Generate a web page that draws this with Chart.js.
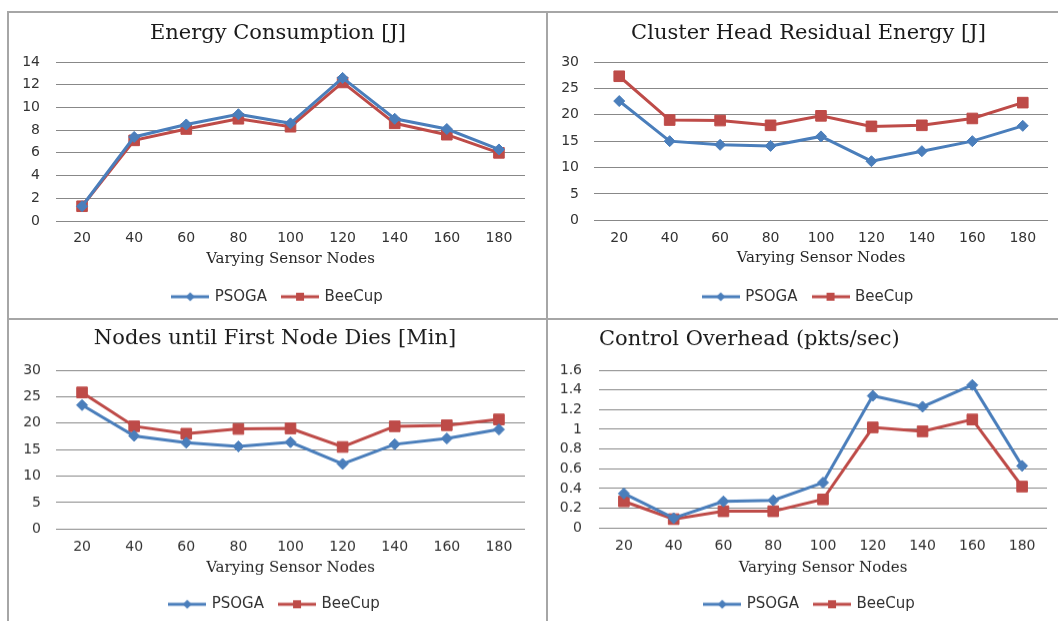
<!DOCTYPE html>
<html>
<head>
<meta charset="utf-8">
<script src="https://cdn.jsdelivr.net/npm/chart.js@4.4.1/dist/chart.umd.min.js"></script>
<style>
  html, body { margin: 0; padding: 0; background: #fff; }
  body { width: 1058px; height: 621px; position: relative; overflow: hidden; }
  .panel { position: absolute; }
  .rule { position: absolute; background: #a6a6a6; }
</style>
</head>
<body>
<div class="rule" style="left:7px;top:11px;width:1051px;height:2px"></div>
<div class="rule" style="left:7px;top:318px;width:1051px;height:2px"></div>
<div class="rule" style="left:7px;top:11px;width:2px;height:610px"></div>
<div class="rule" style="left:546px;top:11px;width:2px;height:610px"></div>

<div class="panel" id="p1"><canvas id="c1"></canvas></div>
<div class="panel" id="p2"><canvas id="c2"></canvas></div>
<div class="panel" id="p3"><canvas id="c3"></canvas></div>
<div class="panel" id="p4"><canvas id="c4"></canvas></div>

<script>
const sensorNodes = ["20", "40", "60", "80", "100", "120", "140", "160", "180"];
const seriesNames = ["PSOGA", "BeeCup"];

const energyPsoga = [1.3, 7.4, 8.5, 9.4, 8.6, 12.6, 9.0, 8.1, 6.3];
const energyBeecup = [1.3, 7.1, 8.1, 9.0, 8.3, 12.2, 8.6, 7.6, 6.0];
const energyTicks = [0, 2, 4, 6, 8, 10, 12, 14];

const residualPsoga = [22.6, 15.0, 14.3, 14.1, 15.9, 11.2, 13.1, 15.0, 17.9];
const residualBeecup = [27.3, 19.0, 18.9, 18.0, 19.8, 17.8, 18.0, 19.3, 22.3];
const residualTicks = [0, 5, 10, 15, 20, 25, 30];

const firstDiesPsoga = [23.4, 17.6, 16.3, 15.6, 16.4, 12.3, 16.0, 17.1, 18.8];
const firstDiesBeecup = [25.8, 19.4, 18.0, 18.9, 19.0, 15.5, 19.4, 19.6, 20.7];
const firstDiesTicks = [0, 5, 10, 15, 20, 25, 30];

const overheadPsoga = [0.35, 0.10, 0.27, 0.28, 0.46, 1.34, 1.23, 1.45, 0.63];
const overheadBeecup = [0.27, 0.09, 0.17, 0.17, 0.29, 1.02, 0.98, 1.10, 0.42];
const overheadTicks = [0, 0.2, 0.4, 0.6, 0.8, 1, 1.2, 1.4, 1.6];

const BLUE = "#4a7ebb";
const RED = "#be4b48";

// small line+marker icons for the legend
function legendIcon(color, shape) {
  const c = document.createElement("canvas");
  c.width = 38; c.height = 12;
  const g = c.getContext("2d");
  g.strokeStyle = color; g.lineWidth = 3;
  g.beginPath(); g.moveTo(0, 6); g.lineTo(38, 6); g.stroke();
  g.fillStyle = color;
  g.beginPath();
  if (shape === "diamond") {
    g.moveTo(19, 1.5); g.lineTo(23.5, 6); g.lineTo(19, 10.5); g.lineTo(14.5, 6);
  } else {
    g.rect(15, 2, 8, 8);
  }
  g.fill();
  return c;
}
const icons = [legendIcon(BLUE, "diamond"), legendIcon(RED, "square")];

const sans = "'DejaVu Sans', sans-serif";
const serif = "'DejaVu Serif', serif";

function makePanel(id, canvasId, title, psoga, beecup, ticks, geo) {
  const titleSize = 21, xTitleSize = 15;
  const titleLH = titleSize * 1.2, tickLH = 14 * 1.2, xTitleLH = xTitleSize * 1.2;
  const legFont = 15, legPad = 16;
  const height = geo.legendMid + legFont / 2 + 10 - geo.top;
  const legendTop = geo.legendMid - legPad - legFont / 2;
  const box = document.getElementById(id);
  box.style.left = geo.left + "px";
  box.style.top = geo.top + "px";
  box.style.width = geo.width + "px";
  box.style.height = height + "px";

  const titlePadTop = geo.titleMid - geo.top - titleLH / 2;
  const titlePadBottom = geo.plotTop - geo.top - titleLH - titlePadTop;

  new Chart(document.getElementById(canvasId), {
    type: "line",
    data: {
      labels: sensorNodes,
      datasets: [
        {
          label: seriesNames[0], data: psoga,
          borderColor: BLUE, backgroundColor: BLUE, borderWidth: 3,
          pointStyle: "rectRot", pointRadius: 5.5, pointBorderWidth: 1,
          tension: 0,
        },
        {
          label: seriesNames[1], data: beecup,
          borderColor: RED, backgroundColor: RED, borderWidth: 3,
          pointStyle: "rect", pointRadius: 7.5, pointBorderWidth: 1,
          tension: 0,
        },
      ],
    },
    options: {
      responsive: true,
      maintainAspectRatio: false,
      animation: false,
      layout: { padding: 0 },
      plugins: {
        tooltip: { enabled: false },
        title: {
          display: true, text: title, color: "#1a1a1a",
          font: { family: serif, size: titleSize, weight: "normal" },
          padding: { top: titlePadTop, bottom: titlePadBottom },
          align: geo.titleAlign || "center",
          fullSize: geo.titleFull !== false,
        },
        legend: {
          position: "bottom",
          fullSize: geo.legendFull !== false,
          labels: {
            usePointStyle: true, pointStyleWidth: 34, padding: legPad,
            color: "#333", font: { family: sans, size: legFont },
            generateLabels: (chart) => chart.data.datasets.map((ds, i) => ({
              text: ds.label, pointStyle: icons[i], datasetIndex: i,
              hidden: false, lineWidth: 0, fillStyle: "transparent",
              strokeStyle: "transparent", fontColor: "#333",
            })),
          },
        },
      },
      scales: {
        x: {
          offset: true,
          grid: { display: false, drawTicks: false },
          border: { display: false },
          ticks: {
            color: "#333", font: { family: sans, size: 14 },
            padding: geo.tickMid - geo.plotBottom - tickLH / 2,
            maxRotation: 0, autoSkip: false,
          },
          title: {
            display: true, text: "Varying Sensor Nodes", color: "#262626",
            font: { family: serif, size: xTitleSize },
            padding: { top: 0, bottom: legendTop - geo.xTitleMid - xTitleLH / 2 },
          },
          afterFit: (s) => { s.height = legendTop - geo.plotBottom; },
        },
        y: {
          min: ticks[0], max: ticks[ticks.length - 1],
          grid: { color: "#888", lineWidth: 1, drawTicks: false },
          border: { display: false },
          ticks: {
            color: "#333", font: { family: sans, size: 14 }, padding: geo.yPad,
            autoSkip: false,
            callback: (v) => String(Number(v.toFixed(2))),
          },
          afterBuildTicks: (s) => { s.ticks = ticks.map((v) => ({ value: v })); },
          afterFit: (s) => { s.width = geo.plotLeft - geo.left; },
        },
        yR: {
          position: "right", display: true,
          grid: { display: false, drawTicks: false },
          border: { display: false },
          ticks: { display: false },
          afterFit: (s) => { s.width = geo.left + geo.width - geo.plotRight; },
        },
      },
    },
  });
}

makePanel("p1", "c1", "Energy Consumption [J]", energyPsoga, energyBeecup, energyTicks, {
  left: 9, top: 14, width: 538, plotLeft: 56, plotRight: 525, plotTop: 62, plotBottom: 221,
  titleMid: 34, tickMid: 238.3, xTitleMid: 259, legendMid: 296.7, yPad: 16,
});
makePanel("p2", "c2", "Cluster Head Residual Energy [J]", residualPsoga, residualBeecup, residualTicks, {
  left: 549, top: 14, width: 519, plotLeft: 594, plotRight: 1048, plotTop: 62, plotBottom: 220.3,
  titleMid: 34, tickMid: 238.3, xTitleMid: 258.5, legendMid: 296.7, yPad: 15,
});
makePanel("p3", "c3", "Nodes until First Node Dies [Min]", firstDiesPsoga, firstDiesBeecup, firstDiesTicks, {
  left: 9, top: 320, width: 532, plotLeft: 56, plotRight: 525, plotTop: 370, plotBottom: 528.3,
  titleMid: 339, tickMid: 546.7, xTitleMid: 566.7, legendMid: 603.3, yPad: 15,
});
makePanel("p4", "c4", "Control Overhead (pkts/sec)", overheadPsoga, overheadBeecup, overheadTicks, {
  left: 549, top: 320, width: 522, plotLeft: 599, plotRight: 1047, plotTop: 370, plotBottom: 527.3,
  titleMid: 340, tickMid: 545, xTitleMid: 566.7, legendMid: 603.3, yPad: 17,
  titleAlign: "start", titleFull: false,
});
</script>
</body>
</html>
